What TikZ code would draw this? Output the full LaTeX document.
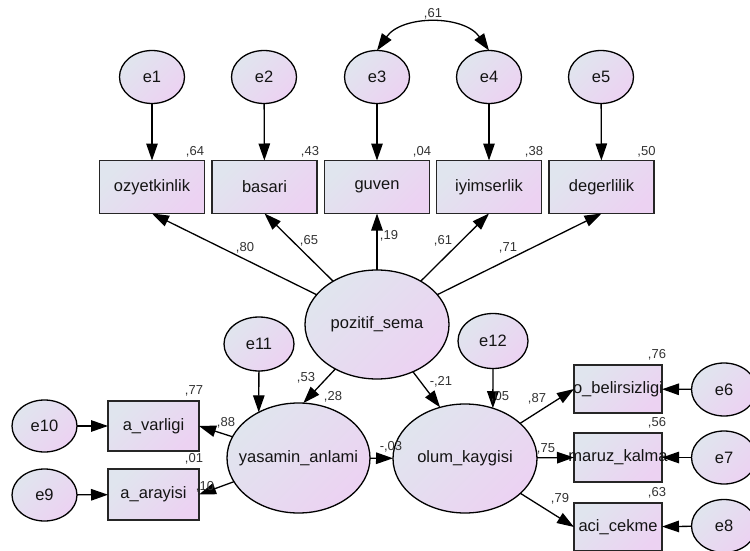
\documentclass[tikz,border=0pt]{standalone}
\usepackage{fontspec}
\setmainfont{Liberation Sans}
\usetikzlibrary{shapes.geometric, arrows.meta}
\definecolor{cA}{HTML}{E0E5EE}
\definecolor{cB}{HTML}{ECD2F2}
\definecolor{txt}{HTML}{141414}
\newcommand\zw[1]{\makebox[0pt]{#1}}
\begin{document}
\begin{tikzpicture}[x=1pt,y=-1pt,
  lat/.style={ellipse, draw=black, line width=1.3pt, inner sep=0pt, outer sep=0pt,
    top color=cA, bottom color=cB, shading angle=45,
    font=\fontsize{16.5}{18}\selectfont, text=txt},
  obs/.style={rectangle, draw=black!85, line width=1.6pt, inner sep=0pt, outer sep=0pt,
    top color=cA, bottom color=cB, shading angle=45,
    font=\fontsize{16.5}{18}\selectfont, text=txt},
  err/.style={lat, minimum width=65pt, minimum height=53pt},
  topbox/.style={obs, minimum width=105pt, minimum height=53pt},
  tip/.tip={Triangle[length=17pt,width=11.5pt]},
  arr/.style={-tip, line width=1.3pt},
  num/.style={font=\fontsize{13}{15}\selectfont, text=black!80, inner sep=0pt,
    text height=9pt, text depth=2pt}
]
\clip (0,0) rectangle (750,551);
\fill[white] (0,0) rectangle (750,551);

% top error terms
\node[err] (e1) at (152,77) {e1};
\node[err] (e2) at (264,77) {e2};
\node[err] (e3) at (377,77) {e3};
\node[err] (e4) at (489,77) {e4};
\node[err] (e5) at (601,77) {e5};

% top indicators
\node[topbox] (ozy) at (152,187) {\zw{ozyetkinlik}};
\node[topbox] (bas) at (264.5,187) {\zw{basari}};
\node[topbox] (guv) at (377,187) {\zw{guven}};
\node[topbox] (iyi) at (489,187) {\zw{iyimserlik}};
\node[topbox] (deg) at (601.5,187) {\zw{degerlilik}};

% latent variables
\node[lat, minimum width=144pt, minimum height=109pt] (poz) at (377,324.5) {\zw{pozitif\_sema}};
\node[lat, minimum width=143pt, minimum height=110pt] (yas) at (298.5,458) {\zw{yasamin\_anlami}};
\node[lat, minimum width=144pt, minimum height=109pt] (olum) at (465,458.5) {\zw{olum\_kaygisi}};

\node[lat, minimum width=70pt, minimum height=54pt] (e11) at (259,344) {e11};
\node[lat, minimum width=70pt, minimum height=55pt] (e12) at (493,341) {e12};

% left indicators
\node[obs, minimum width=91pt, minimum height=50pt] (avar) at (153.5,426) {\zw{a\_varligi}};
\node[obs, minimum width=91pt, minimum height=51pt] (aray) at (153.5,494.5) {\zw{a\_arayisi}};
\node[lat, minimum width=65pt, minimum height=52pt] (e10) at (44.5,426) {e10};
\node[lat, minimum width=65pt, minimum height=52pt] (e9) at (44.5,495) {e9};

% right indicators
\node[obs, minimum width=88pt, minimum height=48pt] (ob) at (618,389) {\zw{o\_belirsizligi}};
\node[obs, minimum width=88pt, minimum height=49pt] (mar) at (618,457.5) {\zw{maruz\_kalma}};
\node[obs, minimum width=88pt, minimum height=48pt] (aci) at (618,527) {\zw{aci\_cekme}};
\node[lat, minimum width=65pt, minimum height=53pt] (e6) at (724,389.5) {e6};
\node[lat, minimum width=65pt, minimum height=53pt] (e7) at (724,457.5) {e7};
\node[lat, minimum width=65pt, minimum height=53pt] (e8) at (724,526) {e8};

% arrows: errors to top indicators
\draw[arr] (e1) -- (ozy);
\draw[arr] (e2) -- (bas);
\draw[arr] (e3) -- (guv);
\draw[arr] (e4) -- (iyi);
\draw[arr] (e5) -- (deg);
\draw[tip-tip, line width=1.3pt] (e3.north) to[out=55,in=125] (e4.north);

% loadings of pozitif_sema
\draw[arr] (poz) -- (ozy.south);
\draw[arr] (poz) -- (bas.south);
\draw[arr] (poz) -- (guv.south);
\draw[arr] (poz) -- (iyi.south);
\draw[arr] (poz) -- (deg.south);

% structural paths
\draw[arr] (poz) -- (yas.85);
\draw[arr] (poz) -- (olum.116);
\draw[arr] (yas) -- (olum);
\draw[arr] (e11) -- (yas.131);
\draw[arr] (e12) -- (olum.61);

% left measurement
\draw[arr] (yas) -- (avar.east);
\draw[arr] (yas) -- (aray.east);
\draw[arr] (e10) -- (avar);
\draw[arr] (e9) -- (aray);

% right measurement
\draw[arr] (olum) -- (ob.west);
\draw[arr] (olum) -- (mar.west);
\draw[arr] (olum) -- (aci.west);
\draw[arr] (e6) -- (ob);
\draw[arr] (e7) -- (mar);
\draw[arr] (e8) -- (aci);

% numbers
\node[num] (c61) at (433,14) {,61};
\node[num] (r64) at (195,152) {,64};
\node[num] (r43) at (310,152) {,43};
\node[num] (r04) at (422,152) {,04};
\node[num] (r38) at (534,152) {,38};
\node[num] (r50) at (646.5,152) {,50};
\node[num] (l80) at (245,248) {,80};
\node[num] (l65) at (309,241) {,65};
\node[num] (l19) at (389,236) {,19};
\node[num] (l61) at (443,241) {,61};
\node[num] (l71) at (508,248) {,71};
\node[num] (l53) at (306,378) {,53};
\node[num] (r28) at (333,397) {,28};
\node[num] (l21) at (441,382) {-,21};
\node[num] (r05) at (500,397) {,05};
\node[num] (l03) at (391,447) {-,03};
\node[num] (l88) at (226,423) {,88};
\node[num] (l10) at (205,487) {,10};
\node[num] (r77) at (194,391) {,77};
\node[num] (r01) at (194,459) {,01};
\node[num] (l87) at (537,399) {,87};
\node[num] (l75) at (546,449) {,75};
\node[num] (l79) at (560,499) {,79};
\node[num] (r76) at (657,355) {,76};
\node[num] (r56) at (657,423) {,56};
\node[num] (r63) at (657,493) {,63};
\end{tikzpicture}
\end{document}
